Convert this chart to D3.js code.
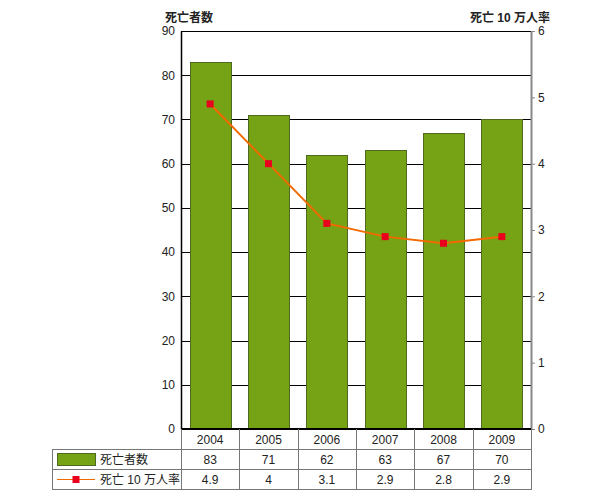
<!DOCTYPE html>
<html><head><meta charset="utf-8">
<script src="https://cdn.jsdelivr.net/npm/d3@7"></script>
<style>body{margin:0;background:#fff}svg{display:block}text{font-family:"Liberation Sans",Arial,"Noto Sans CJK JP",sans-serif}</style>
</head><body><svg id="c" width="600" height="500"></svg>
<script>
const years = ["2004","2005","2006","2007","2008","2009"];
const deaths = [83,71,62,63,67,70];
const rates = [4.9,4,3.1,2.9,2.8,2.9];
const leftTicks = [0,10,20,30,40,50,60,70,80,90];
const rightTicks = [0,1,2,3,4,5,6];
const barLabel = "死亡者数";
const lineLabel = "死亡 10 万人率";

const svg = d3.select("#c");
const L=181,R=531,T=31,B=429;
const font = '"Liberation Sans",Arial,"Noto Sans CJK JP",sans-serif';
const x = d3.scaleBand().domain(years).range([L,R]).paddingInner(0.3).paddingOuter(0.15);
const xc = d3.scaleBand().domain(years).range([L,R]);
const y = d3.scaleLinear().domain([0,90]).range([B,T]);
const y2 = d3.scaleLinear().domain([0,6]).range([B,T]);

// gridlines
svg.append("g").selectAll("line").data(leftTicks.filter(d=>d>0)).join("line")
  .attr("x1",L).attr("x2",R).attr("y1",d=>Math.round(y(d))+0.5).attr("y2",d=>Math.round(y(d))+0.5)
  .attr("stroke","#000").attr("stroke-width",1);

// bars
svg.append("g").selectAll("rect").data(deaths).join("rect")
  .attr("x",(d,i)=>Math.round(x(years[i]))+0.5).attr("width",Math.round(x.bandwidth()))
  .attr("y",d=>Math.round(y(d))+0.5).attr("height",d=>B-Math.round(y(d)))
  .attr("fill","#76a216").attr("stroke","#4f6a20").attr("stroke-width",1);

// left axis
const la = svg.append("g").attr("transform",`translate(${L},0)`)
  .call(d3.axisLeft(y).tickValues(leftTicks).tickSize(0).tickPadding(6));
la.select(".domain").attr("stroke","#000").attr("stroke-width",1.5);
la.selectAll("text").attr("font-size",12).attr("fill","#222").attr("font-family",font);

// right axis
const ra = svg.append("g").attr("transform",`translate(${R},0)`)
  .call(d3.axisRight(y2).tickValues(rightTicks).tickFormat(d3.format("d")).tickSize(4).tickSizeOuter(0).tickPadding(3));
ra.select(".domain").attr("stroke","#888").attr("stroke-width",2);
ra.selectAll(".tick line").attr("stroke","#888");
ra.selectAll("text").attr("font-size",12).attr("fill","#222").attr("font-family",font);

// bottom axis line
svg.append("line").attr("x1",L).attr("x2",R).attr("y1",B).attr("y2",B).attr("stroke","#000").attr("stroke-width",2);

// line
const line = d3.line().x((d,i)=>xc(years[i])+xc.bandwidth()/2).y(d=>y2(d));
svg.append("path").datum(rates).attr("d",line).attr("fill","none").attr("stroke","#f26a00").attr("stroke-width",2);
svg.append("g").selectAll("rect").data(rates).join("rect")
  .attr("x",(d,i)=>xc(years[i])+xc.bandwidth()/2-3.5).attr("y",d=>y2(d)-3.5)
  .attr("width",7).attr("height",7).attr("fill","#e8001c");

// titles
svg.append("text").attr("x",165).attr("y",22).attr("font-size",12).attr("font-weight","bold").attr("fill","#222").text(barLabel);
svg.append("text").attr("x",550).attr("y",22).attr("text-anchor","end").attr("font-size",12).attr("font-weight","bold").attr("fill","#222").text(lineLabel);

// table
const TL=52, r1=449, r2=469, r3=489;
const tg = svg.append("g");
const gc="#777";
tg.append("line").attr("x1",TL).attr("x2",R).attr("y1",r1+0.5).attr("y2",r1+0.5).attr("stroke",gc);
tg.append("line").attr("x1",TL).attr("x2",R).attr("y1",r2+0.5).attr("y2",r2+0.5).attr("stroke",gc);
tg.append("line").attr("x1",TL).attr("x2",R).attr("y1",r3+0.5).attr("y2",r3+0.5).attr("stroke",gc);
tg.append("line").attr("x1",TL+0.5).attr("x2",TL+0.5).attr("y1",r1).attr("y2",r3+1).attr("stroke",gc);
const cols = years.map(d=>xc(d)).concat([R]);
tg.selectAll("line.v").data(cols).join("line").attr("class","v")
  .attr("x1",d=>Math.round(d)+0.5).attr("x2",d=>Math.round(d)+0.5).attr("y1",B).attr("y2",r3+1).attr("stroke",gc);

tg.selectAll("text.yr").data(years).join("text").attr("class","yr")
  .attr("x",d=>xc(d)+xc.bandwidth()/2).attr("y",r1-5).attr("text-anchor","middle").attr("font-size",12).attr("fill","#222").text(d=>d);
tg.selectAll("text.dv").data(deaths).join("text").attr("class","dv")
  .attr("x",(d,i)=>xc(years[i])+xc.bandwidth()/2).attr("y",r2-5).attr("text-anchor","middle").attr("font-size",12).attr("fill","#222").text(d=>d);
tg.selectAll("text.rv").data(rates).join("text").attr("class","rv")
  .attr("x",(d,i)=>xc(years[i])+xc.bandwidth()/2).attr("y",r3-5).attr("text-anchor","middle").attr("font-size",12).attr("fill","#222").text(d=>d);

// legend
tg.append("rect").attr("x",57.5).attr("y",453.5).attr("width",38).attr("height",12).attr("fill","#76a216").attr("stroke","#4f6a20");
tg.append("text").attr("x",100).attr("y",r2-5).attr("font-size",12).attr("fill","#222").text(barLabel);
tg.append("line").attr("x1",57).attr("x2",95).attr("y1",479.5).attr("y2",479.5).attr("stroke","#f26a00").attr("stroke-width",1);
tg.append("rect").attr("x",72.5).attr("y",476).attr("width",7).attr("height",7).attr("fill","#e8001c");
tg.append("text").attr("x",100).attr("y",r3-5).attr("font-size",12).attr("fill","#222").text(lineLabel);
</script></body></html>
